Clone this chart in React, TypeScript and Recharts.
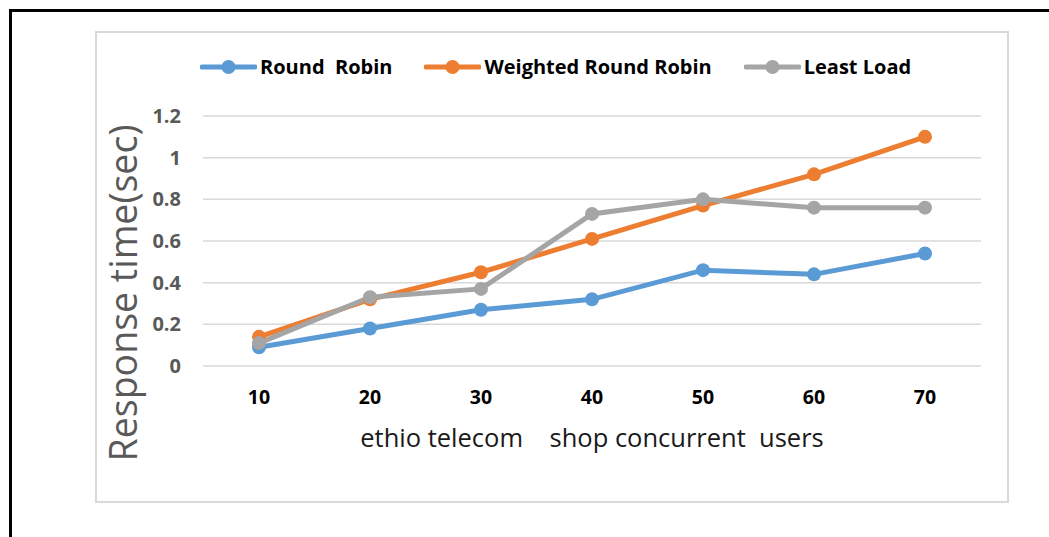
import { CartesianGrid, Label, Line, LineChart, XAxis, YAxis } from "recharts";

// Concurrent users on the shop (x categories)
const USERS = ["10", "20", "30", "40", "50", "60", "70"];

// Response time in seconds
const ROUND_ROBIN = [0.09, 0.18, 0.27, 0.32, 0.46, 0.44, 0.54];
const WEIGHTED_RR = [0.14, 0.32, 0.45, 0.61, 0.77, 0.92, 1.1];
const LEAST_LOAD = [0.11, 0.33, 0.37, 0.73, 0.8, 0.76, 0.76];

const Y_TICKS = [0, 0.2, 0.4, 0.6, 0.8, 1, 1.2];

const SERIES = [
  { key: "rr", name: "Round  Robin", color: "#5B9BD5", values: ROUND_ROBIN },
  { key: "wrr", name: "Weighted Round Robin", color: "#ED7D31", values: WEIGHTED_RR },
  { key: "ll", name: "Least Load", color: "#A5A5A5", values: LEAST_LOAD },
];

const FONT = '"Open Sans", sans-serif';

const data = USERS.map((u, i) => {
  const row: Record<string, string | number> = { users: u };
  for (const s of SERIES) row[s.key] = s.values[i];
  return row;
});

// Rotated y title sits a bit below the plot's vertical center, like the source.
function YTitle({ viewBox }: { viewBox?: { x: number; y: number; width: number; height: number } }) {
  if (!viewBox) return null;
  const x = viewBox.x + 40;
  const y = viewBox.y + viewBox.height / 2 + 52;
  return (
    <text
      x={x}
      y={y}
      transform={`rotate(-90, ${x}, ${y})`}
      textAnchor="middle"
      fill="#595959"
      fontFamily={FONT}
      fontSize={37.5}
    >
      Response time(sec)
    </text>
  );
}

function LegendRow() {
  return (
    <div
      style={{
        position: "absolute",
        left: 200,
        top: 55,
        height: 24,
        display: "flex",
        alignItems: "center",
        gap: 32,
        fontFamily: FONT,
        fontWeight: 700,
        fontSize: 20,
        color: "#000",
        whiteSpace: "pre",
      }}
    >
      {SERIES.map((s) => (
        <div key={s.key} style={{ display: "flex", alignItems: "center" }}>
          <svg width={57} height={16} style={{ display: "block" }}>
            <line x1={2} x2={55} y1={8} y2={8} stroke={s.color} strokeWidth={5} strokeLinecap="round" />
            <circle cx={28.5} cy={8} r={7} fill={s.color} />
          </svg>
          <span style={{ marginLeft: 3, lineHeight: "24px" }}>{s.name}</span>
        </div>
      ))}
    </div>
  );
}

export default function App() {
  return (
    <>
      {/* black page frame, top and left edges only */}
      <div
        style={{
          position: "absolute",
          left: 9,
          top: 9,
          width: 1040,
          height: 528,
          boxSizing: "border-box",
          borderTop: "3px solid #000",
          borderLeft: "3px solid #000",
        }}
      />
      <div
        style={{
          position: "absolute",
          left: 95,
          top: 31,
          width: 914,
          height: 472,
          boxSizing: "border-box",
          border: "2px solid #D9D9D9",
          background: "#fff",
        }}
      >
        <LineChart width={910} height={468} data={data} margin={{ top: 83, right: 26, bottom: 0, left: 0 }}>
          <CartesianGrid stroke="#D9D9D9" strokeWidth={1.5} vertical={false} />
          <XAxis
            dataKey="users"
            height={135}
            axisLine={false}
            tickLine={false}
            tickSize={0}
            tickMargin={24}
            padding={{ left: 56, right: 56 }}
            tick={{ fill: "#000", fontFamily: FONT, fontWeight: 700, fontSize: 19.5 }}
          >
            <Label
              value={"ethio telecom\u00A0\u00A0\u00A0\u00A0shop concurrent\u00A0\u00A0users"}
              position="insideBottom"
              offset={54}
              style={{ fill: "#1A1A1A", fontFamily: FONT, fontSize: 25.5 }}
            />
          </XAxis>
          <YAxis
            width={106}
            domain={[0, 1.2]}
            ticks={Y_TICKS}
            axisLine={false}
            tickLine={false}
            tickSize={0}
            tickMargin={22}
            tick={{ fill: "#595959", fontFamily: FONT, fontWeight: 700, fontSize: 20 }}
          >
            <Label content={YTitle} />
          </YAxis>
          {SERIES.map((s) => (
            <Line
              key={s.key}
              dataKey={s.key}
              name={s.name}
              type="linear"
              stroke={s.color}
              strokeWidth={5}
              dot={{ r: 7, fill: s.color, stroke: "none" }}
              activeDot={false}
              isAnimationActive={false}
            />
          ))}
        </LineChart>
        <div style={{ position: "absolute", left: -97, top: -33 }}>
          <LegendRow />
        </div>
      </div>
    </>
  );
}
